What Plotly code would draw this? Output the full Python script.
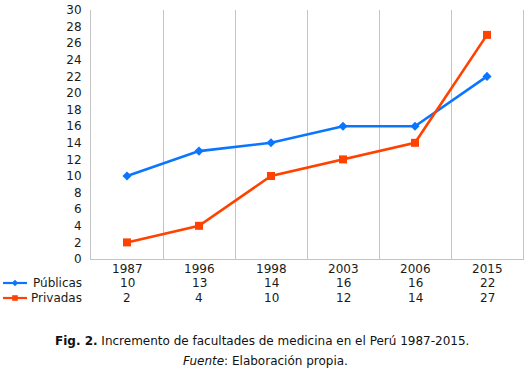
import plotly.graph_objects as go

years = ["1987", "1996", "1998", "2003", "2006", "2015"]
publicas = [10, 13, 14, 16, 16, 22]
privadas = [2, 4, 10, 12, 14, 27]
series_names = ["Públicas", "Privadas"]
y_ticks = list(range(0, 31, 2))

W, H = 531, 373
FONT = "DejaVu Sans"
BLUE = "#0a76ff"
RED = "#ff4200"
GRID = "#c4c4c4"
TXT = "#1a1a1a"

# plot area in pixels
L, R, T, B = 91, 523, 10, 259

def px(x):
    return x / W

def py(y):
    return 1 - y / H

idx = list(range(len(years)))

fig = go.Figure()
fig.add_trace(go.Scatter(x=idx, y=publicas, mode="lines+markers", name=series_names[0],
                         line=dict(color=BLUE, width=2.6),
                         marker=dict(symbol="diamond", size=7, color=BLUE)))
fig.add_trace(go.Scatter(x=idx, y=privadas, mode="lines+markers", name=series_names[1],
                         line=dict(color=RED, width=2.6),
                         marker=dict(symbol="square", size=8, color=RED)))

annotations = []
rows = [(years, 269), ([str(v) for v in publicas], 283), ([str(v) for v in privadas], 298)]
for labels, ypix in rows:
    for i, lab in enumerate(labels):
        annotations.append(dict(x=i, xref="x", y=py(ypix), yref="paper", text=lab,
                                showarrow=False, xanchor="center", yanchor="middle",
                                font=dict(family=FONT, size=12, color=TXT)))
for name, ypix in zip(series_names, [283, 298]):
    annotations.append(dict(x=px(84), xref="paper", y=py(ypix), yref="paper", text=name,
                            showarrow=False, xanchor="right", yanchor="middle",
                            font=dict(family=FONT, size=12, color=TXT)))
annotations.append(dict(x=px(262), xref="paper", y=py(341), yref="paper",
                        text="<b>Fig. 2.</b> Incremento de facultades de medicina en el Perú 1987-2015.",
                        showarrow=False, xanchor="center", yanchor="middle",
                        font=dict(family=FONT, size=12, color="#111")))
annotations.append(dict(x=px(265), xref="paper", y=py(361), yref="paper",
                        text="<i>Fuente</i>: Elaboración propia.",
                        showarrow=False, xanchor="center", yanchor="middle",
                        font=dict(family=FONT, size=12, color="#111")))

shapes = []
for color, ypix, sym in [(BLUE, 283, "diamond"), (RED, 298, "square")]:
    shapes.append(dict(type="line", xref="paper", yref="paper", x0=px(3), x1=px(27),
                       y0=py(ypix), y1=py(ypix), line=dict(color=color, width=2.2)))
    cx, cy = 15, ypix
    if sym == "diamond":
        d = 3.2
        path = f"M {px(cx-d)} {py(cy)} L {px(cx)} {py(cy-d)} L {px(cx+d)} {py(cy)} L {px(cx)} {py(cy+d)} Z"
    else:
        d = 2.8
        path = f"M {px(cx-d)} {py(cy-d)} L {px(cx+d)} {py(cy-d)} L {px(cx+d)} {py(cy+d)} L {px(cx-d)} {py(cy+d)} Z"
    shapes.append(dict(type="path", xref="paper", yref="paper", path=path,
                       fillcolor=color, line=dict(width=0)))

fig.update_layout(
    width=W, height=H,
    margin=dict(l=0, r=0, t=0, b=0, pad=0, autoexpand=False),
    plot_bgcolor="white", paper_bgcolor="white",
    showlegend=False,
    font=dict(family=FONT, size=12, color=TXT),
    xaxis=dict(domain=[px(L), px(R)], range=[-0.5, 5.5], tickmode="array",
               tickvals=[0.5, 1.5, 2.5, 3.5, 4.5], showticklabels=False,
               showgrid=True, gridcolor=GRID, gridwidth=1, zeroline=False, automargin=False,
               showline=True, linecolor=GRID, linewidth=1, ticks=""),
    yaxis=dict(domain=[py(B), py(T)], range=[0, 30], tickmode="array", tickvals=y_ticks,
               showgrid=False, zeroline=False, showline=True, linecolor=GRID, linewidth=1,
               mirror=True, automargin=False,
               ticks="", ticklabelstandoff=6, tickfont=dict(family=FONT, size=12, color=TXT)),
    annotations=annotations,
    shapes=shapes,
)

fig.write_html("out.html", config={"displayModeBar": False},
               post_script="document.body.style.margin='0';document.body.style.overflow='hidden';")
